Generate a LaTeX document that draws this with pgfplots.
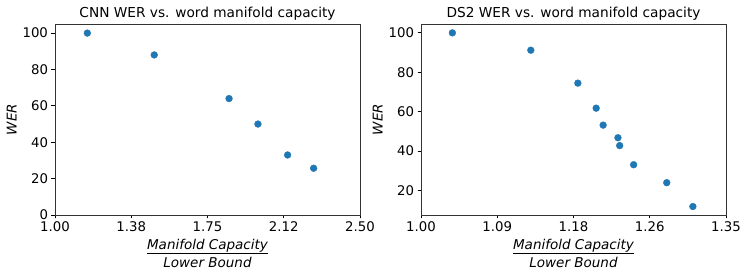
\documentclass[border=0pt]{standalone}
\usepackage{pgfplots}
\pgfplotsset{compat=1.18}
\usepackage{fontspec}
\setmainfont{DejaVu Sans}
\definecolor{mplblue}{RGB}{31,119,180}
\newcommand{\fraclabel}{\begin{tabular}{@{}c@{}}\itshape Manifold Capacity\\[-1pt]\hline\rule{0pt}{14.5pt}\itshape Lower Bound\end{tabular}}
\pgfplotsset{
  myaxis/.style={
    scale only axis, width=305pt, height=191pt,
    anchor=south west,
    /pgf/number format/assume math mode=true,
    tick align=outside, tick pos=left,
    major tick length=3.5pt,
    tick style={black, line width=0.8pt},
    axis line style={black!80, line width=0.8pt},
    ticklabel style={font=\fontsize{13.3}{15}\selectfont},
    xlabel style={font=\fontsize{13.5}{15}\selectfont, yshift=0pt},
    ylabel style={font=\fontsize{13.5}{15}\selectfont\itshape, xshift=0pt, yshift=-1pt},
    title style={font=\fontsize{13.7}{15}\selectfont, yshift=-6pt},
    xlabel={\fraclabel},
    ylabel={WER},
  },
  pts/.style={only marks, mark=*, mark size=3.4pt, color=mplblue, mark options={draw=mplblue, fill=mplblue}},
}
\begin{document}
\begin{tikzpicture}[x=1pt,y=1pt]
\useasboundingbox (0,0) rectangle (747,275);
\begin{axis}[myaxis, at={(55pt,60pt)},
  xmin=1, xmax=2.5, ymin=0, ymax=105,
  xtick={1,1.375,1.75,2.125,2.5},
  xticklabels={1.00,1.38,1.75,2.12,2.50},
  ytick={0,20,40,60,80,100},
  title={CNN WER vs. word manifold capacity}]
\addplot[pts] coordinates {(1.159,100) (1.488,88) (1.856,64) (1.998,50) (2.144,33) (2.272,25.7)};
\end{axis}
\begin{axis}[myaxis, at={(421pt,60pt)},
  xmin=1, xmax=1.35, ymin=7.6, ymax=104.5,
  xtick={1,1.0875,1.175,1.2625,1.35},
  xticklabels={1.00,1.09,1.18,1.26,1.35},
  ytick={20,40,60,80,100},
  title={DS2 WER vs. word manifold capacity}]
\addplot[pts] coordinates {(1.036,100) (1.126,91.2) (1.180,74.5) (1.201,61.8) (1.209,53.2) (1.226,46.8) (1.228,42.8) (1.244,33.1) (1.282,24.0) (1.312,11.9)};
\end{axis}
\end{tikzpicture}
\end{document}
